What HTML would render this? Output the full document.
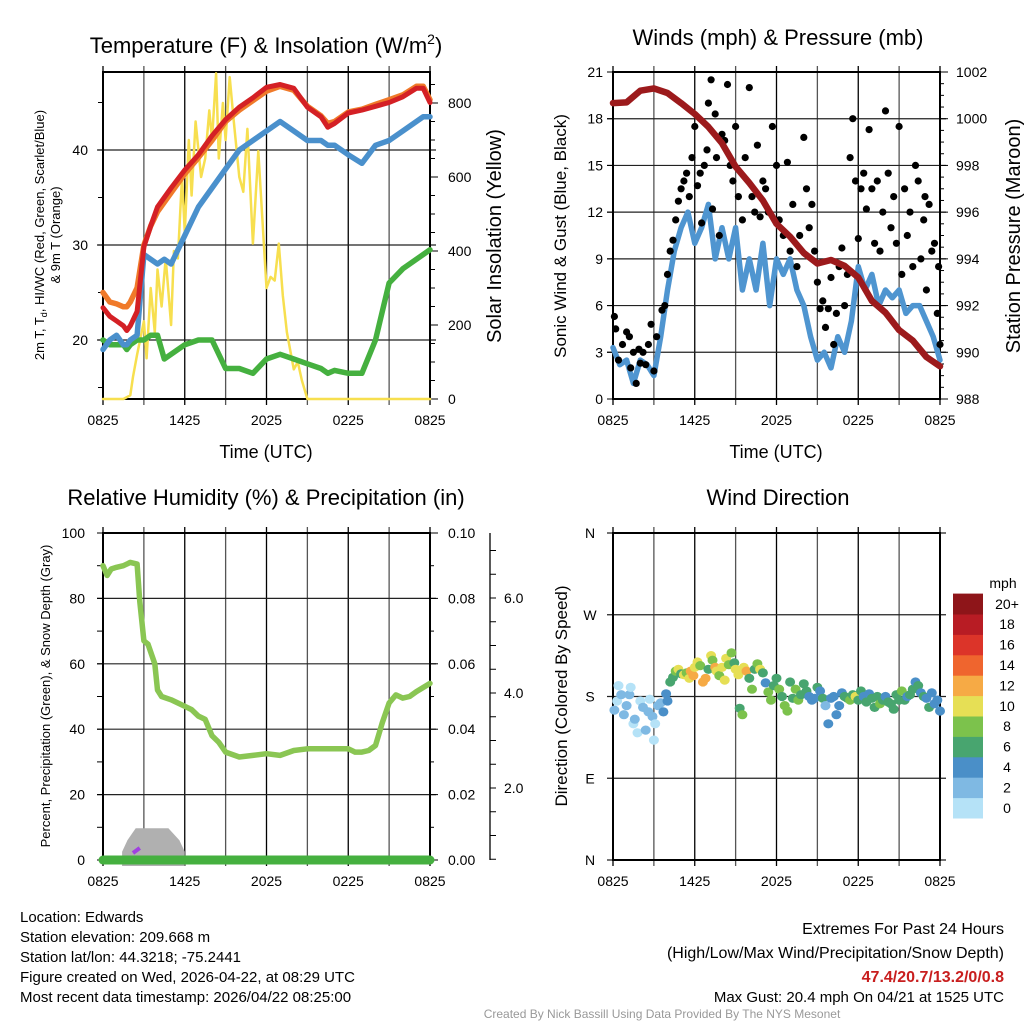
<!DOCTYPE html>
<html><head><meta charset="utf-8"><style>
html,body{margin:0;padding:0;background:#fff;}
svg{display:block;font-family:"Liberation Sans",sans-serif;}
</style></head><body>
<svg id="s" width="1024" height="1024" viewBox="0 0 1024 1024" xmlns="http://www.w3.org/2000/svg">
<g font-size="22" text-anchor="middle" fill="#000">
<text x="266" y="53">Temperature (F) &amp; Insolation (W/m<tspan font-size="14" dy="-9">2</tspan><tspan dy="9">)</tspan></text>
<text x="778" y="45">Winds (mph) &amp; Pressure (mb)</text>
<text x="266" y="505">Relative Humidity (%) &amp; Precipitation (in)</text>
<text x="778" y="505">Wind Direction</text>
</g>
<g font-size="18" text-anchor="middle">
<text x="266" y="458">Time (UTC)</text>
<text x="776" y="458">Time (UTC)</text>
</g>
<g font-size="13" text-anchor="middle">
<text transform="translate(44,235) rotate(-90)">2m T, T<tspan font-size="9" dy="3">d</tspan><tspan dy="-3">, HI/WC (Red, Green, Scarlet/Blue)</tspan></text>
<text transform="translate(60,235) rotate(-90)">&amp; 9m T (Orange)</text>
<text transform="translate(50,696) rotate(-90)">Percent, Precipitation (Green), &amp; Snow Depth (Gray)</text>
</g>
<g font-size="20" text-anchor="middle">
<text transform="translate(501,236) rotate(-90)">Solar Insolation (Yellow)</text>
<text transform="translate(1020,236) rotate(-90)">Station Pressure (Maroon)</text>
</g>
<g font-size="17" text-anchor="middle">
<text transform="translate(566,236) rotate(-90)">Sonic Wind &amp; Gust (Blue, Black)</text>
<text transform="translate(567,696) rotate(-90)">Direction (Colored By Speed)</text>
</g>
<g font-size="15" fill="#000">
<text x="20" y="922">Location: Edwards</text>
<text x="20" y="942">Station elevation: 209.668 m</text>
<text x="20" y="962">Station lat/lon: 44.3218; -75.2441</text>
<text x="20" y="982">Figure created on Wed, 2026-04-22, at 08:29 UTC</text>
<text x="20" y="1002">Most recent data timestamp: 2026/04/22 08:25:00</text>
</g>
<g font-size="16" text-anchor="end">
<text x="1004" y="934">Extremes For Past 24 Hours</text>
<text x="1004" y="958">(High/Low/Max Wind/Precipitation/Snow Depth)</text>
<text x="1004" y="982" fill="#c81e1e" font-weight="bold">47.4/20.7/13.2/0/0.8</text>
<text x="1004" y="1002" font-size="15">Max Gust: 20.4 mph On 04/21 at 1525 UTC</text>
</g>
<text x="662" y="1018" font-size="12" fill="#999" text-anchor="middle">Created By Nick Bassill Using Data Provided By The NYS Mesonet</text>
<g id="charts"></g>
</svg>
<script>
// ---------- data ----------
var hours = [0,1,2,3,4,5,6,7,8,9,10,11,12,13,14,15,16,17,18,19,20,21,22,23,24];
var xTickLabels = ["0825","1425","2025","0225","0825"];
var tempT = [0,0.5,1,1.5,1.75,2,2.5,3,3.5,4,4.5,5,6,7,8,9,10,11,12,13,14,15,16,16.5,17,18,19,20,21,22,23,23.5,24];
var tempRed = [23.4,22.5,22,21.5,21,21.5,23,29.8,32,34,35,36,37.9,39.5,41.5,43.2,44.5,45.5,46.6,46.9,46.5,44.5,43.5,42.4,42.8,43.9,44.2,44.6,45,45.6,46.5,46.5,45];
var tempOrange = [25,24,23.8,23.5,23.5,24,25.5,30,32,33.5,34.5,35.5,37.5,39.2,41,43,44.2,45.2,46.2,46.7,46.3,44.6,43.6,42.8,43,44,44.3,44.8,45.3,45.8,46.7,46.7,45.3];
var tempBlue = [19,20,20.5,19.5,19.5,20,20.5,29,28.5,28,28.5,28,31,34,36,38,40,41,42,43,42,41,41,40.5,40.5,39.5,38.6,40.5,41,42,43,43.5,43.5];
var tempGreen = [20,19.5,19.5,19.5,19,19.5,20,20,20.5,20.5,18,18.5,19.5,20,20,17,17,16.5,18,18.5,18,17.5,17,16.5,16.8,16.5,16.5,20,26,27.5,28.5,29,29.5];
var solarT = [0,1.5,2,2.2,2.5,3,3.2,3.5,3.8,4,4.3,4.6,5,5.2,5.5,5.8,6,6.3,6.5,6.8,7.2,7.5,7.8,8,8.3,8.5,8.8,9,9.3,9.6,10,10.3,10.6,11,11.4,12,12.3,12.6,12.9,13.2,13.5,14,14.3,14.6,15,24];
var solarV = [0,0,10,60,120,210,110,300,180,350,250,380,200,400,380,600,450,700,550,750,600,650,780,700,880,650,800,700,870,750,600,560,730,420,670,300,330,320,420,280,180,80,100,50,0,0];
var windT = [0,0.5,1,1.5,2,2.5,3,3.5,4,4.5,5,5.5,6,6.5,7,7.5,8,8.5,9,9.5,10,10.5,11,11.5,12,12.5,13,13.5,14,14.5,15,15.5,16,16.5,17,17.5,18,18.5,19,19.5,20,20.5,21,21.5,22,22.5,23,23.5,24];
var windV = [3.3,2.2,2.5,1,2.5,2.2,1.5,4,7,9.5,11,12,10,11,12.5,9,11,9,11,7,9,7,10,6,9,8,9,7,6,4,2.5,3,2,4,3,5,8.5,7,8,6,7,6.5,7,5.5,6,6,5,4,2.5];
var presT = hours;
var presV = [1000.67,1000.7,1001.2,1001.3,1001.1,1000.67,1000.2,999.65,998.95,997.95,997.25,996.5,995.5,994.95,994.25,993.8,993.95,993.7,993.2,992.2,991.7,990.95,990.5,989.8,989.4];
var gustT = [0.1,0.2,0.4,0.7,1.0,1.2,1.3,1.5,1.7,1.9,2.0,2.2,2.4,2.6,2.8,3.0,3.2,3.6,3.8,4.0,4.2,4.4,4.6,4.8,5.0,5.2,5.4,5.6,5.8,6.0,6.2,6.4,6.5,6.7,6.9,7.0,7.2,7.3,7.5,7.6,7.8,8.0,8.2,8.4,8.6,8.8,9.0,9.2,9.5,9.7,10.0,10.2,10.4,10.6,10.8,11.0,11.2,11.4,11.7,12.0,12.2,12.5,12.8,13.0,13.2,13.5,13.7,14.0,14.2,14.4,14.6,14.8,15.0,15.2,15.4,15.6,15.8,16.0,16.2,16.4,16.6,16.8,17.0,17.2,17.4,17.6,17.8,18.0,18.2,18.4,18.6,18.8,19.0,19.2,19.4,19.6,19.8,20.0,20.2,20.4,20.6,20.8,21.0,21.2,21.4,21.6,21.8,22.0,22.2,22.4,22.6,22.8,23.0,23.2,23.4,23.6,23.8,24.0,23.9,22.9];
var gustV = [5.3,4.5,2.5,3.5,4.3,4.0,2.0,3.0,1.0,3.2,2.3,3.0,2.2,3.5,4.8,1.8,4.0,5.7,6.0,8.0,9.5,10.2,11.5,12.7,13.5,14.0,14.5,13.0,15.5,17.5,13.7,14.5,11.3,15.0,16.0,19.0,20.5,12.2,18.3,15.5,10.5,17.0,16.6,20.2,15.0,14.0,17.5,13.0,11.5,15.5,20.0,13.0,12.0,16.3,11.7,14.0,13.5,12.0,17.5,15.0,11.5,10.5,15.2,9.5,12.5,8.5,10.5,16.8,13.5,11.0,12.5,9.5,7.5,5.8,6.3,4.6,5.8,7.8,3.5,5.5,8.5,9.7,6.0,8.0,15.5,18.0,14.0,10.3,13.5,14.5,12.2,17.3,13.5,10.0,14.0,9.5,12.0,18.5,14.5,11.0,13.0,10.0,17.5,8.0,13.5,10.5,12.0,8.5,15.0,14.0,9.0,11.5,7.0,12.5,9.5,10.0,5.5,3.5,8.5,13.0];
var rhT = [0,0.3,0.6,1,1.5,2,2.5,2.7,3.0,3.3,3.8,4.0,4.3,5,5.5,6,6.5,7,7.5,8,8.5,9,10,11,12,13,14,15,16,17,18,18.5,19,19.5,20,20.5,21,21.5,22,22.5,23,24];
var rhV = [90,87,89,89.5,90,91,90.5,79,67,66,60,52,50,49,48,47,46,44,43,38,36,33,31.5,32,32.5,32,33.5,34,34,34,34,33,33,33.5,35,42,48,50.5,49.5,50,51.5,54];
var snowT = [1.4,1.8,2.4,4.8,5.6,6.0];
var snowV = [0,0.3,0.6,0.6,0.3,0];
var dirT = [0.1,0.3,0.4,0.6,0.8,1.0,1.2,1.3,1.5,1.6,1.8,2.0,2.2,2.4,2.6,2.7,2.9,3.0,3.1,3.3,3.5,3.7,3.9,4.0,4.2,4.4,4.6,4.8,5.0,5.2,5.4,5.6,5.7,5.9,6.0,6.2,6.4,6.6,6.8,7.0,7.2,7.3,7.5,7.6,7.8,8.0,8.2,8.3,8.5,8.7,8.9,9.0,9.2,9.3,9.5,9.6,9.8,10.0,10.2,10.4,10.6,10.8,11.0,11.2,11.4,11.6,11.8,12.0,12.2,12.4,12.6,12.8,13.0,13.2,13.4,13.6,13.8,14.0,14.2,14.4,14.6,14.8,15.0,15.2,15.4,15.6,15.8,16.0,16.2,16.4,16.6,16.8,17.0,17.2,17.4,17.6,17.8,18.0,18.2,18.4,18.6,18.8,19.0,19.2,19.4,19.6,19.8,20.0,20.2,20.4,20.6,20.8,21.0,21.2,21.4,21.6,21.8,22.0,22.2,22.4,22.6,22.8,23.0,23.2,23.4,23.6,23.8,24.0];
var dirDeg = [165,175,192,182,160,170,182,190,150,155,140,175,168,143,163,177,158,132,150,170,173,163,183,175,196,201,208,210,205,204,206,200,208,203,212,218,214,196,200,210,225,220,212,208,203,212,198,222,215,228,217,210,204,167,160,212,208,200,188,210,216,210,206,195,185,176,192,200,188,180,170,164,196,178,188,176,182,194,186,180,176,178,190,186,178,170,150,178,180,160,170,184,180,178,176,182,180,176,186,180,174,183,178,168,180,172,176,180,174,172,166,182,176,186,176,180,182,188,196,192,184,180,178,168,184,172,176,164];
var dirSpd = [3,1,1,2,3,2,2,1,1,2,1,1,3,2,3,1,2,1,1,3,3,4,4,4,6,6,8,10,6,10,8,10,12,12,10,10,8,12,12,6,10,8,12,10,8,10,10,10,8,8,6,10,10,6,8,10,12,6,8,6,8,10,6,4,8,8,6,6,8,6,8,8,6,6,8,8,6,6,6,4,4,4,6,4,6,2,4,4,4,4,4,4,6,6,8,6,10,6,6,4,6,4,6,6,6,8,6,4,6,6,6,6,6,8,6,4,6,6,4,6,4,6,4,6,4,4,4,4];
var legendLabels = ["0","2","4","6","8","10","12","14","16","18","20+"];
var legendColors = ["#b5e2f7","#7fb9e3","#4a8fc8","#48a56f","#7cc24c","#e6df55","#f6aa45","#ef652e","#dc3429","#b81c24","#8e1519"];

// ---------- helpers ----------
var NS = "http://www.w3.org/2000/svg";
var root = document.getElementById("charts");
function mk(tag, attrs, parent) {
  var el = document.createElementNS(NS, tag);
  for (var k in attrs) el.setAttribute(k, attrs[k]);
  (parent || root).appendChild(el);
  return el;
}
function scale(d0, d1, r0, r1) { return function (v) { return r0 + (v - d0) / (d1 - d0) * (r1 - r0); }; }
function polyline(xs, ys, xf, yf, color, w, name) {
  var pts = [];
  for (var i = 0; i < xs.length; i++) pts.push(xf(xs[i]).toFixed(1) + "," + yf(ys[i]).toFixed(1));
  var el = mk("polyline", { points: pts.join(" "), fill: "none", stroke: color, "stroke-width": w, "stroke-linejoin": "round", "stroke-linecap": "round" });
  
  
  return el;
}
function label(x, y, txt, anchor, size, name) {
  var el = mk("text", { x: x, y: y, "text-anchor": anchor, "font-size": size || 14 });
  el.textContent = txt;
  
  
  return el;
}
function seg(x1, y1, x2, y2, color, w, name) {
  var el = mk("line", { x1: x1, y1: y1, x2: x2, y2: y2, stroke: color, "stroke-width": w });
  
  
  return el;
}
function frame(L, T, R, B, xf, hy, prefix) {
  for (var h = 0; h <= 24; h += 3) {
    var x = xf(h);
    seg(x, T - 6, x, B + 6, (h % 6 === 0) ? "#000" : "#555", 1.3, prefix + "-x-grid");
  }
  for (var i = 0; i < hy.length; i++) seg(L - 6, hy[i], R + 6, hy[i], "#222", 1.2, prefix + "-y-grid");
  var r = mk("rect", { x: L, y: T, width: R - L, height: B - T, fill: "none", stroke: "#000", "stroke-width": 2 });
  
  
  for (var j = 0; j < 5; j++) label(xf(j * 6), B + 26, xTickLabels[j], "middle", 14, prefix + "-x-tick-label");
}

// ---------- panel 1: temperature ----------
(function () {
  var L = 103, R = 430, T = 72, B = 399;
  var xf = scale(0, 24, L, R);
  var yT = scale(20, 40, 340, 150);
  var yS = scale(0, 800, 399, 103);
  var grid = [20, 30, 40].map(yT);
  frame(L, T, R, B, xf, grid, "temperature");
  [15, 20, 25, 30, 35, 40, 45].forEach(function (v) { seg(L - 5, yT(v), L, yT(v), "#000", 1, "temperature-y-tick"); });
  [20, 30, 40].forEach(function (v) { label(L - 15, yT(v) + 5, String(v), "end", 14, "temperature-y-tick-label"); });
  for (var s = 0; s <= 850; s += 50) seg(R, yS(s), R + (s % 200 === 0 ? 8 : 5), yS(s), "#000", 1, "solar-y-tick");
  [0, 200, 400, 600, 800].forEach(function (v) { label(R + 18, yS(v) + 5, String(v), "start", 14, "solar-y-tick-label"); });
  polyline(solarT, solarV, xf, yS, "#f7df4f", 2.5, "solar-insolation-line");
  polyline(tempT, tempGreen, xf, yT, "#45b03f", 5.5, "dewpoint-line");
  polyline(tempT, tempBlue, xf, yT, "#4a90cc", 5.5, "windchill-line");
  polyline(tempT, tempOrange, xf, yT, "#f07a2a", 5.5, "temperature-9m-line");
  polyline(tempT, tempRed, xf, yT, "#d42025", 5, "temperature-2m-line");
})();

// ---------- panel 2: winds ----------
(function () {
  var L = 613, R = 940, T = 72, B = 399;
  var xf = scale(0, 24, L, R);
  var yW = scale(0, 21, B, T);
  var yP = scale(988, 1002, B, T);
  var grid = [];
  for (var v = 3; v <= 18; v += 3) grid.push(yW(v));
  frame(L, T, R, B, xf, grid, "winds");
  for (var w = 0; w <= 21; w += 3) {
    seg(L - 6, yW(w), L, yW(w), "#000", 1, "wind-y-tick");
    label(L - 10, yW(w) + 5, String(w), "end", 14, "wind-y-tick-label");
  }
  for (var p = 988; p <= 1002; p += 0.5) seg(R, yP(p), R + (p % 2 === 0 ? 8 : 4), yP(p), "#000", 1, "pressure-y-tick");
  for (var q = 988; q <= 1002; q += 2) label(R + 16, yP(q) + 5, String(q), "start", 14, "pressure-y-tick-label");
  polyline(windT, windV, xf, yW, "#4f95d0", 5.5, "sonic-wind-line");
  for (var i = 0; i < gustT.length; i++) {
    var c = mk("circle", { cx: xf(gustT[i]).toFixed(1), cy: yW(gustV[i]).toFixed(1), r: 3.6, fill: "#000" });
    
    
  }
  polyline(presT, presV, xf, yP, "#9c1a1c", 6.5, "station-pressure-line");
})();

// ---------- panel 3: humidity ----------
(function () {
  var L = 103, R = 430, T = 533, B = 860;
  var xf = scale(0, 24, L, R);
  var yH = scale(0, 100, B, T);
  var yPr = scale(0, 0.1, B, T);
  var ySn = scale(0, 6, 883, 598);
  var grid = [20, 40, 60, 80].map(yH);
  frame(L, T, R, B, xf, grid, "humidity");
  for (var h = 0; h <= 100; h += 10) seg(L - 6, yH(h), L, yH(h), "#000", 1, "humidity-y-tick");
  for (var k = 0; k <= 100; k += 20) label(L - 18, yH(k) + 5, String(k), "end", 14, "humidity-y-tick-label");
  for (var p = 0; p <= 10; p++) seg(R, yPr(p / 100), R + (p % 2 === 0 ? 8 : 4), yPr(p / 100), "#000", 1, "precip-y-tick");
  for (var p2 = 0; p2 <= 10; p2 += 2) label(R + 18, yPr(p2 / 100) + 5, (p2 / 100).toFixed(2), "start", 14, "precip-y-tick-label");
  seg(490, T, 490, B, "#000", 1.3, "snow-depth-axis");
  for (var s = 0.5; s <= 7; s += 0.5) { if (ySn(s) >= T) seg(490, ySn(s), 496, ySn(s), "#000", 1, "snow-depth-y-tick"); }
  [2, 4, 6].forEach(function (v) { label(504, ySn(v) + 5, v.toFixed(1), "start", 14, "snow-depth-y-tick-label"); });
  var pts = [];
  for (var i = 0; i < snowT.length; i++) pts.push(xf(snowT[i]).toFixed(1) + "," + yH(snowV[i] * 12 + 2.5).toFixed(1));
  var poly = mk("polygon", { points: xf(snowT[0]) + "," + (B + 6) + " " + pts.join(" ") + " " + xf(snowT[snowT.length - 1]) + "," + (B + 6), fill: "#b0b0b0" });
  
  
  seg(xf(2.2), 853, xf(2.7), 848, "#a040e0", 4, "snow-purple-segment");
  polyline(rhT, rhV, xf, yH, "#8ac653", 5.5, "relative-humidity-line");
  polyline([0, 24], [0, 0], xf, yPr, "#45b03f", 9, "precipitation-line");
})();

// ---------- panel 4: wind direction ----------
(function () {
  var L = 613, R = 940, T = 533, B = 860;
  var xf = scale(0, 24, L, R);
  var yD = scale(0, 360, B, T);
  var names = ["N", "E", "S", "W", "N"];
  var grid = [0, 90, 180, 270, 360].map(yD);
  frame(L, T, R, B, xf, grid, "wind-direction");
  for (var i = 0; i < 5; i++) label(590, yD(i * 90) + 5, names[i], "middle", 14, "direction-y-tick-label");
  for (var j = 0; j < dirT.length; j++) {
    var bin = Math.min(10, Math.floor(dirSpd[j] / 2));
    var c = mk("ellipse", { cx: xf(dirT[j]).toFixed(1), cy: yD(dirDeg[j]).toFixed(1), rx: 5, ry: 4.6, fill: legendColors[bin] });
    
    
  }
  label(1003, 588, "mph", "middle", 14, "legend-title");
  var boxH = 20.4;
  for (var k = 0; k < legendLabels.length; k++) {
    var y = 818 - (k + 1) * boxH;
    var r = mk("rect", { x: 953, y: y.toFixed(1), width: 30, height: (boxH + 0.5).toFixed(1), fill: legendColors[k] });
    
    
    label(1007, y + boxH / 2 + 5, legendLabels[k], "middle", 14, "legend-label");
  }
})();
</script>
</body></html>
